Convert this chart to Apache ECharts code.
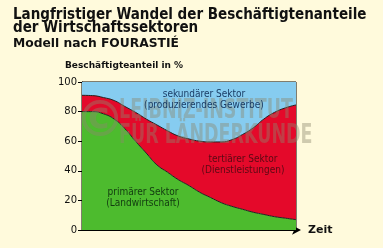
<!DOCTYPE html>
<html><head><meta charset="utf-8">
<script src="https://cdn.jsdelivr.net/npm/echarts@6/dist/echarts.min.js"></script>
<style>html,body{margin:0;padding:0;background:#FFFADC;}#c{width:383px;height:248px;}</style>
</head><body><div id="c"></div>
<script>
const timeSteps = ['0','1','2','3','4','5','6','7','8','9','10','11','12','13','14','15','16','17','18','19','20'];
const primaer   = [80,80,78.5,75,68.5,60,52,44,39,34,30,25.5,22,18.5,16,14,12,10.5,9,8,7];
const tertiaer  = [11,10.8,11,12.5,15,19.5,23,27,28,29.5,31.5,34.5,37.5,41,45,50.5,57,64.5,70.5,74.5,77.5];
const sekundaer = [9,9.2,10.5,12.5,16.5,20.5,25,29,33,36.5,38.5,40,40.5,40.5,39,35.5,31,25,20.5,17.5,15.5];
const yTicks = [0,20,40,60,80,100];

const chart = echarts.init(document.getElementById('c'), null, {renderer:'canvas'});
const wm = 'rgba(140,135,110,0.42)';
const lab = 'DejaVu Sans Condensed';
chart.setOption({
  backgroundColor:'#FFFADC',
  animation:false,
  title:[
    {text:'Langfristiger Wandel der Beschäftigtenanteile\nder Wirtschaftssektoren', left:8, top:4,
     textStyle:{fontFamily:'DejaVu Sans Condensed', fontWeight:'bold', fontSize:15, color:'#111', lineHeight:13}},
    {text:'Modell nach FOURASTIÉ', left:8, top:33,
     textStyle:{fontFamily:'DejaVu Sans', fontWeight:'bold', fontSize:12.3, color:'#111'}},
    {text:'Beschäftigteanteil in %', left:60, top:56,
     textStyle:{fontFamily:'DejaVu Sans', fontWeight:'bold', fontSize:9, color:'#111'}}
  ],
  grid:{left:82, right:87, top:82, bottom:18, show:true, borderColor:'#000', borderWidth:1},
  xAxis:{type:'category', data:timeSteps, boundaryGap:false, axisLabel:{show:false}, axisTick:{show:false}, splitLine:{show:false},
    axisLine:{lineStyle:{color:'#000', width:1}, symbol:['none','arrow'], symbolSize:[7,9], symbolOffset:[0,5]},
    name:'Zeit', nameLocation:'end', nameGap:12,
    nameTextStyle:{fontFamily:'DejaVu Sans', fontWeight:'bold', fontSize:11, color:'#111', verticalAlign:'middle'}},
  yAxis:{type:'value', min:0, max:100, interval:20, splitLine:{show:false},
    axisLine:{show:true, lineStyle:{color:'#000'}}, axisTick:{show:true, length:4, lineStyle:{color:'#000'}},
    axisLabel:{fontFamily:'DejaVu Sans', fontSize:10, color:'#111', margin:5,
      formatter: v => yTicks.includes(v) ? String(v) : ''}},
  series:[
    {type:'line', stack:'s', smooth:true, symbol:'none', data:primaer,
     lineStyle:{color:'#222', width:1}, areaStyle:{color:'#4DBB2E', opacity:1}, z:3},
    {type:'line', stack:'s', smooth:true, symbol:'none', data:tertiaer,
     lineStyle:{color:'#222', width:1}, areaStyle:{color:'#E4092A', opacity:1}, z:2},
    {type:'line', stack:'s', smooth:true, symbol:'none', data:sekundaer,
     lineStyle:{width:0}, areaStyle:{color:'#86CCF0', opacity:1}, z:1}
  ],
  graphic:[
    {type:'text', x:100, y:123, style:{text:'©', fontFamily:'DejaVu Sans', fontWeight:'bold', fontSize:50,
      fill:wm, align:'center', verticalAlign:'middle'}, z:50},
    {type:'text', x:119, y:111, scaleX:0.72, style:{text:'LEIBNIZ-INSTITUT', fontFamily:'DejaVu Sans Condensed', fontWeight:'bold', fontSize:27,
      fill:wm, verticalAlign:'middle'}, z:50},
    {type:'text', x:119, y:136, scaleX:0.72, style:{text:'FÜR LÄNDERKUNDE', fontFamily:'DejaVu Sans Condensed', fontWeight:'bold', fontSize:27,
      fill:wm, verticalAlign:'middle'}, z:50},
    {type:'text', x:204, y:100, style:{text:'sekundärer Sektor\n(produzierendes Gewerbe)', fontFamily:lab, fontSize:10,
      fill:'#1B3D66', align:'center', verticalAlign:'middle', lineHeight:10.5}, z:60},
    {type:'text', x:243, y:165, style:{text:'tertiärer Sektor\n(Dienstleistungen)', fontFamily:lab, fontSize:10,
      fill:'#5A0A14', align:'center', verticalAlign:'middle', lineHeight:10.5}, z:60},
    {type:'text', x:143, y:198, style:{text:'primärer Sektor\n(Landwirtschaft)', fontFamily:lab, fontSize:10,
      fill:'#123A10', align:'center', verticalAlign:'middle', lineHeight:10.5}, z:60}
  ]
});
</script></body></html>
